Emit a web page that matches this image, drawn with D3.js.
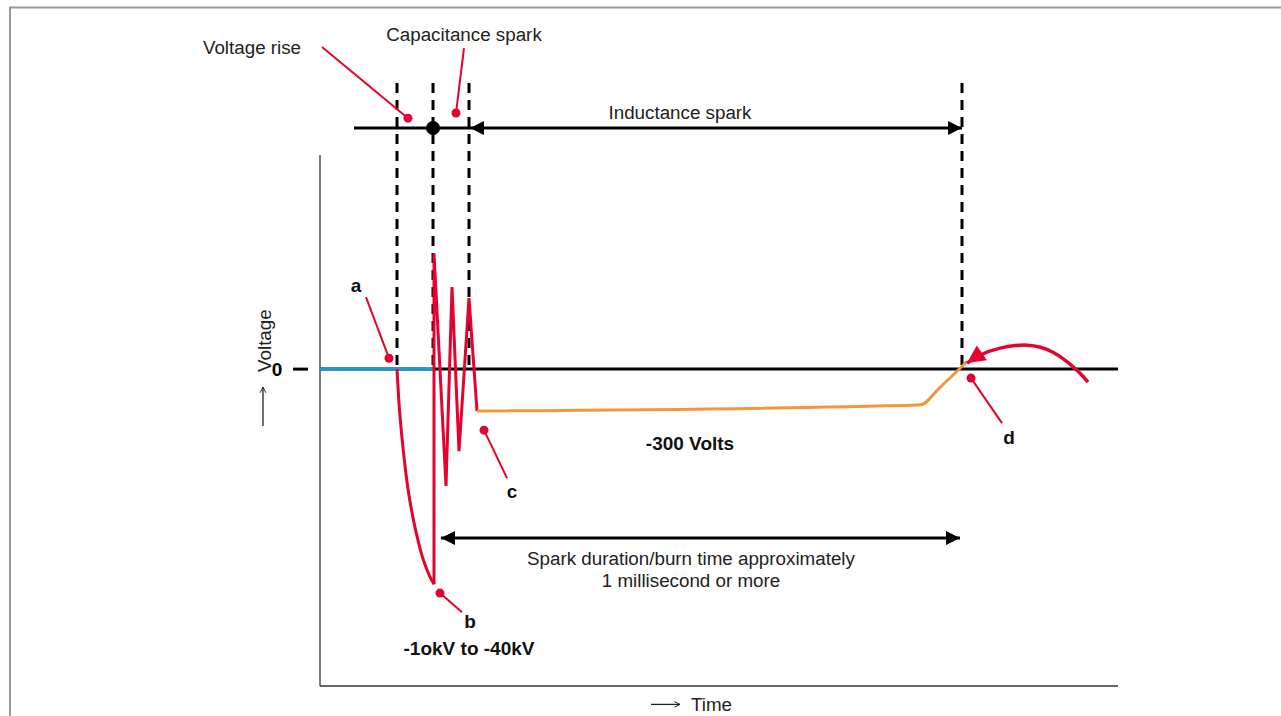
<!DOCTYPE html>
<html><head><meta charset="utf-8">
<script src="https://cdn.jsdelivr.net/npm/d3@7"></script>
<style>
html,body{margin:0;padding:0;background:#fff;}
svg{display:block;font-family:"Liberation Sans",Arial,Helvetica,sans-serif;}
</style></head>
<body><svg id="chart" width="1281" height="716"></svg>
<script>
// ---- data (time in arbitrary units, voltage in relative units; 0 = zero volts) ----
const baseline = [[0,0],[113,0]];                       // blue: before ignition
const riseCurve = [[77,0],[80,-22],[84,-41],[88,-56],[92,-67],[98,-80],[104,-90],[110,-97],[114,-100.5]];
const oscillation = [[114,-100.5],[114,54],[126,-54.6],[132,38.3],[139,-38.3],[149,33.2],[157,-19.6]];
const burn = [[157,-19.6],[600,-16.8],[620,-8.5],[647,3.6]];  // orange inductance phase
const returnArc = [[768,-6.1],[757,-0.5],[733,7.9],[707,11.2],[680,9.8],[660,6.5],[647,2.8]];
const phaseMarkers = [77,113,149,642];
const phaseLabels = ["Voltage rise","Capacitance spark","Inductance spark"];
const pointLetters = ["a","b","c","d"];
const voltageTexts = ["-300 Volts","-1okV to -40kV"];
const durationText = ["Spark duration/burn time approximately","1 millisecond or more"];

const red="#e4032e", blue="#1c9ad6", orange="#f5963d", black="#000";
const FS=18.8, FB=19;
const svg=d3.select("#chart");
const x=d3.scaleLinear().domain([0,798]).range([320,1118]);
const y=d3.scaleLinear().domain([-148,100]).range([686,155]);
const line=d3.line().x(d=>x(d[0])).y(d=>y(d[1]));

// frame
svg.append("path").attr("d","M10,720V7.5H1290").attr("fill","none").attr("stroke","#999").attr("stroke-width",2);

const defs=svg.append("defs");
function marker(id,color,w,h){
  defs.append("marker").attr("id",id).attr("viewBox","0 0 10 10").attr("refX",10).attr("refY",5)
   .attr("markerWidth",w).attr("markerHeight",h).attr("markerUnits","userSpaceOnUse").attr("orient","auto-start-reverse")
   .append("path").attr("d","M0,0L10,5L0,10Z").attr("fill",color);
}
marker("ab",black,16,14);
marker("ar",red,20,18);
defs.append("marker").attr("id","open").attr("viewBox","0 0 10 10").attr("refX",9).attr("refY",5)
  .attr("markerWidth",7).attr("markerHeight",8).attr("markerUnits","userSpaceOnUse").attr("orient","auto")
  .append("path").attr("d","M1,1L9,5L1,9").attr("fill","none").attr("stroke","#222").attr("stroke-width",1.4);

// axes
svg.append("line").attr("x1",x(0)).attr("x2",x(0)).attr("y1",y(100)).attr("y2",y(-148)).attr("stroke","#333").attr("stroke-width",1.3);
svg.append("line").attr("x1",x(0)).attr("x2",x(798)).attr("y1",y(-148)).attr("y2",y(-148)).attr("stroke","#333").attr("stroke-width",1.3);
svg.append("line").attr("x1",x(0)).attr("x2",x(798)).attr("y1",y(0)).attr("y2",y(0)).attr("stroke",black).attr("stroke-width",3);
svg.append("line").attr("x1",x(-27)).attr("x2",x(-12)).attr("y1",y(0)).attr("y2",y(0)).attr("stroke",black).attr("stroke-width",3);
svg.append("text").attr("x",x(-43)).attr("y",y(0)).attr("dy","0.36em").attr("text-anchor","middle").attr("font-weight","bold").attr("font-size",FB).text("0");
svg.append("text").attr("transform",`translate(${x(-56)},${y(13.3)}) rotate(-90)`).attr("text-anchor","middle").attr("dy","0.36em").attr("font-size",FS).attr("fill","#222").text("Voltage");
// axis direction arrows
svg.append("line").attr("x1",x(-57)).attr("x2",x(-57)).attr("y1",y(-26.6)).attr("y2",y(-8.4)).attr("stroke","#222").attr("stroke-width",1.3).attr("marker-end","url(#open)");
svg.append("line").attr("x1",x(331)).attr("x2",x(360)).attr("y1",y(-156.6)).attr("y2",y(-156.6)).attr("stroke","#222").attr("stroke-width",1.3).attr("marker-end","url(#open)");
svg.append("text").attr("x",x(371)).attr("y",y(-156.6)).attr("dy","0.36em").attr("text-anchor","start").attr("font-size",FS).attr("fill","#222").text("Time");

// dashed phase markers
svg.selectAll("line.dash").data(phaseMarkers).join("line").attr("class","dash")
  .attr("x1",d=>x(d)).attr("x2",d=>x(d)).attr("y1",y(133.6)).attr("y2",y(0))
  .attr("stroke",black).attr("stroke-width",3).attr("stroke-dasharray","10,7");

// top timeline
svg.append("line").attr("x1",x(34)).attr("x2",x(150)).attr("y1",y(112.6)).attr("y2",y(112.6)).attr("stroke",black).attr("stroke-width",3);
svg.append("line").attr("x1",x(150)).attr("x2",x(642)).attr("y1",y(112.6)).attr("y2",y(112.6)).attr("stroke",black).attr("stroke-width",3)
  .attr("marker-start","url(#ab)").attr("marker-end","url(#ab)");
svg.append("circle").attr("cx",x(113)).attr("cy",y(112.6)).attr("r",7).attr("fill",black);

// bottom duration arrow
svg.append("line").attr("x1",x(121)).attr("x2",x(640)).attr("y1",y(-78.9)).attr("y2",y(-78.9)).attr("stroke",black).attr("stroke-width",3)
  .attr("marker-start","url(#ab)").attr("marker-end","url(#ab)");

// waveform
svg.append("path").attr("d",line(baseline)).attr("fill","none").attr("stroke",blue).attr("stroke-width",3);
svg.append("path").attr("d",line.curve(d3.curveMonotoneY)(riseCurve)).attr("fill","none").attr("stroke",red).attr("stroke-width",3);
line.curve(d3.curveLinear);
svg.append("path").attr("d",line(oscillation)).attr("fill","none").attr("stroke",red).attr("stroke-width",3).attr("stroke-linejoin","miter");
svg.append("path").attr("d",line.curve(d3.curveMonotoneX)(burn)).attr("fill","none").attr("stroke",orange).attr("stroke-width",3);
svg.append("path").attr("d",line.curve(d3.curveNatural)(returnArc)).attr("fill","none").attr("stroke",red).attr("stroke-width",3.5).attr("marker-end","url(#ar)");
line.curve(d3.curveLinear);

// callouts: [lineStart, dot]
const callouts=[
  {p:[[2,150.4],[88,117.2]]},
  {p:[[144,149.9],[136,119.6]]},
  {p:[[46,33.6],[69,5.1]]},
  {p:[[142,-113.5],[120,-104.6]]},
  {p:[[187,-50.9],[164,-28.5]]},
  {p:[[682,-25.2],[651,-4.2]]}
];
callouts.forEach(c=>{
  svg.append("path").attr("d",line(c.p)).attr("stroke",red).attr("stroke-width",2).attr("fill","none");
  svg.append("circle").attr("cx",x(c.p[1][0])).attr("cy",y(c.p[1][1])).attr("r",4.5).attr("fill",red);
});

// phase labels
const plPos=[[-68,150.4],[144,156.2],[360,120]];
phaseLabels.forEach((t,i)=>svg.append("text").attr("x",x(plPos[i][0])).attr("y",y(plPos[i][1])).attr("dy","0.36em")
  .attr("text-anchor","middle").attr("font-size",FS).attr("fill","#222").text(t));

// letters
const lpPos=[[36,39.2],[150,-117.7],[192,-57],[689,-31.8]];
pointLetters.forEach((t,i)=>svg.append("text").attr("x",x(lpPos[i][0])).attr("y",y(lpPos[i][1])).attr("dy","0.36em")
  .attr("text-anchor","middle").attr("font-size",FB).attr("font-weight","bold").attr("fill","#111").text(t));

// voltage texts
const vtPos=[[370,-34.6],[149,-130.3]];
voltageTexts.forEach((t,i)=>svg.append("text").attr("x",x(vtPos[i][0])).attr("y",y(vtPos[i][1])).attr("dy","0.36em")
  .attr("text-anchor","middle").attr("font-size",FB).attr("font-weight","bold").attr("fill","#111").text(t));

durationText.forEach((t,i)=>svg.append("text").attr("x",x(371)).attr("y",y(-88.3-i*10.3)).attr("dy","0.36em")
  .attr("text-anchor","middle").attr("font-size",FS).attr("fill","#222").text(t));
</script></body></html>
